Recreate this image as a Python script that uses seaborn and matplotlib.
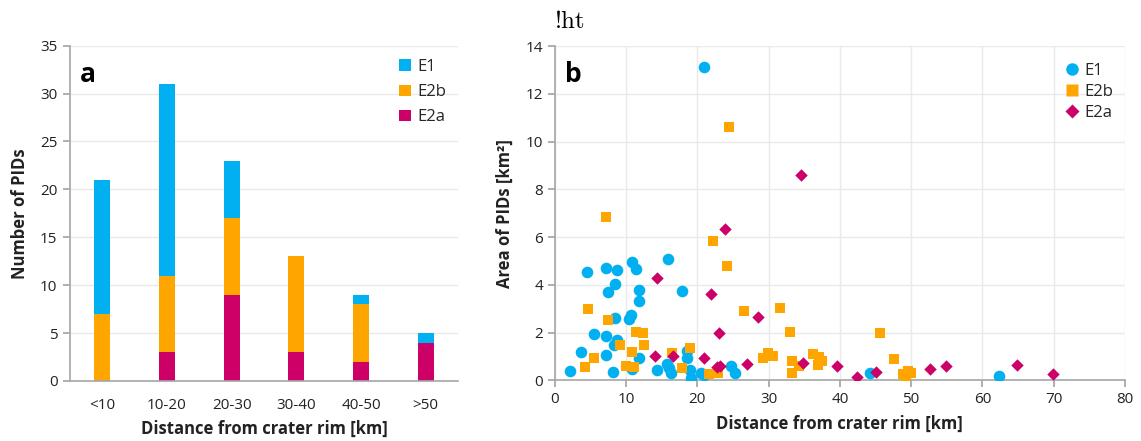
import matplotlib
matplotlib.use("Agg")
import matplotlib.pyplot as plt
from matplotlib.lines import Line2D
from matplotlib.patches import Patch
import seaborn as sns
import pandas as pd
import numpy as np

# ---------------- data ----------------
categories = ["<10", "10-20", "20-30", "30-40", "40-50", ">50"]
bar_e1 = [14, 20, 6, 0, 1, 1]
bar_e2b = [7, 8, 8, 10, 6, 0]
bar_e2a = [0, 3, 9, 3, 2, 4]

e1_x = [2.1, 3.7, 4.6, 5.5, 7.2, 7.5, 7.2, 7.2, 8.2, 8.4, 8.5, 8.8, 8.8, 8.25,
        10.4, 10.7, 10.9, 11.35, 11.8, 11.8, 11.8, 10.8, 14.4, 15.9, 15.8, 16.0,
        16.3, 17.9, 18.5, 18.6, 18.95, 19.1, 20.5, 20.9, 21.0, 24.7, 25.3, 44.2, 62.3]
e1_y = [0.41, 1.2, 4.52, 1.96, 4.7, 3.72, 1.86, 1.05, 0.37, 2.63, 4.02, 4.63, 1.7, 1.5,
        2.55, 2.74, 4.95, 4.65, 3.8, 3.33, 0.95, 0.48, 0.42, 5.08, 0.7, 0.5,
        0.32, 3.73, 1.25, 0.95, 0.45, 0.1, 0.32, 0.23, 13.1, 0.62, 0.32, 0.3, 0.2]

e2b_x = [4.3, 5.5, 4.7, 7.2, 7.45, 9.1, 9.95,
         11.1, 10.9, 11.4, 12.4, 12.5, 16.4, 17.9, 19.0,
         21.6, 22.9, 22.2, 24.1, 24.4, 26.5, 29.2, 29.9,
         30.6, 31.6, 33.0, 33.3, 33.3, 34.3, 36.2, 37.1, 37.5, 36.9,
         45.6, 47.6, 48.9, 49.3, 49.6, 50.0]
e2b_y = [0.55, 0.95, 3.0, 6.84, 2.53, 1.47, 0.6,
         0.57, 1.2, 2.03, 2.0, 1.47, 1.13, 0.5, 1.36,
         0.25, 0.32, 5.83, 4.78, 10.6, 2.91, 0.93, 1.13,
         1.04, 3.02, 2.03, 0.81, 0.3, 0.6, 1.09, 0.97, 0.83, 0.65,
         1.97, 0.9, 0.25, 0.18, 0.4, 0.32]

e2a_x = [14.3, 14.0, 16.6, 21.0, 21.9, 23.0, 23.9, 22.7, 23.2, 27.0, 28.5,
         34.5, 34.8, 39.6, 42.4, 45.1, 52.7, 54.9, 64.8, 69.9]
e2a_y = [4.29, 1.04, 1.02, 0.93, 3.61, 1.97, 6.33, 0.55, 0.62, 0.7, 2.64,
         8.61, 0.72, 0.59, 0.14, 0.35, 0.48, 0.6, 0.65, 0.27]

series = ["E1", "E2b", "E2a"]
colors = {"E1": "#00B0F0", "E2b": "#FFA500", "E2a": "#CC0066"}
markers = {"E1": "o", "E2b": "s", "E2a": "D"}

# ---------------- style ----------------
sns.set_theme(style="white")
plt.rcParams["font.family"] = ["Open Sans", "DejaVu Sans"]
GRID = "#EAEAEA"
SPINE = "#A6A6A6"
TXT = "#222222"

fig = plt.figure(figsize=(11.41, 4.41), dpi=100)
ax1 = fig.add_axes([70 / 1141, 1 - 381 / 441, 388 / 1141, 335.3 / 441])
ax2 = fig.add_axes([554.7 / 1141, 1 - 380.4 / 441, 570.3 / 1141, 334.4 / 441])

# ---------------- panel a: stacked bars ----------------
df_bar = pd.DataFrame({"cat": categories,
                       "E1": bar_e1, "E2b": bar_e2b, "E2a": bar_e2a})
df_bar["top_e1"] = df_bar["E1"] + df_bar["E2b"] + df_bar["E2a"]
df_bar["top_e2b"] = df_bar["E2b"] + df_bar["E2a"]
df_bar["top_e2a"] = df_bar["E2a"]

for col, s in [("top_e1", "E1"), ("top_e2b", "E2b"), ("top_e2a", "E2a")]:
    sns.barplot(data=df_bar, x="cat", y=col, order=categories, color=colors[s],
                saturation=1, width=0.25, linewidth=0, ax=ax1)

ax1.set_xlim(-0.5, 5.5)
ax1.set_ylim(0, 35)
ax1.set_yticks(range(0, 36, 5))
ax1.yaxis.grid(True, color=GRID, linewidth=1)
ax1.xaxis.grid(False)
ax1.set_axisbelow(True)
for side in ["top", "right"]:
    ax1.spines[side].set_visible(False)
for side in ["left", "bottom"]:
    ax1.spines[side].set_color(SPINE)
    ax1.spines[side].set_linewidth(1.2)
ax1.tick_params(axis="y", which="both", left=True, length=5, color=SPINE,
                labelsize=11, labelcolor=TXT, pad=4)
ax1.tick_params(axis="x", bottom=False, labelsize=11, labelcolor=TXT, pad=6)
ax1.set_xlabel("Distance from crater rim [km]", fontsize=12, fontweight="bold",
               color=TXT, labelpad=5)
ax1.set_ylabel("Number of PIDs", fontsize=12, fontweight="bold", color=TXT,
               labelpad=8)
ax1.text(0.025, 0.955, "a", transform=ax1.transAxes, fontsize=19,
         fontweight="bold", va="top", ha="left", color="black")
handles_a = [Patch(facecolor=colors[s], edgecolor="none", label=s) for s in series]
ax1.legend(handles=handles_a, loc="upper right", bbox_to_anchor=(1.0, 0.995),
           frameon=False, fontsize=12, handlelength=0.7, handleheight=0.7,
           handletextpad=0.4, labelspacing=0.55, borderaxespad=0.3)

# ---------------- panel b: scatter ----------------
df_sc = pd.DataFrame({
    "x": e1_x + e2b_x + e2a_x,
    "y": e1_y + e2b_y + e2a_y,
    "type": ["E1"] * len(e1_x) + ["E2b"] * len(e2b_x) + ["E2a"] * len(e2a_x),
})
sizes = {"E1": 70, "E2b": 55, "E2a": 40}
for s in series:
    sns.scatterplot(data=df_sc[df_sc["type"] == s], x="x", y="y",
                    color=colors[s], marker=markers[s], s=sizes[s],
                    linewidth=0, ax=ax2, legend=False, zorder=3)

ax2.set_xlim(0, 80)
ax2.set_ylim(0, 14)
ax2.set_xticks(range(0, 81, 10))
ax2.set_yticks(range(0, 15, 2))
ax2.grid(True, color=GRID, linewidth=1)
ax2.set_axisbelow(True)
for side in ["top", "right"]:
    ax2.spines[side].set_visible(False)
for side in ["left", "bottom"]:
    ax2.spines[side].set_color(SPINE)
    ax2.spines[side].set_linewidth(1.2)
ax2.tick_params(axis="both", which="both", left=True, bottom=True, length=5,
                color=SPINE, labelsize=11, labelcolor=TXT)
ax2.tick_params(axis="x", pad=3)
ax2.set_xlabel("Distance from crater rim [km]", fontsize=12, fontweight="bold",
               color=TXT, labelpad=6)
ax2.set_ylabel("Area of PIDs [km²]", fontsize=12, fontweight="bold", color=TXT,
               labelpad=8)
ax2.text(0.018, 0.955, "b", transform=ax2.transAxes, fontsize=19,
         fontweight="bold", va="top", ha="left", color="black")
handles_b = [Line2D([], [], linestyle="none", marker=markers[s],
                    markerfacecolor=colors[s], markeredgecolor="none",
                    markersize={"E1": 9, "E2b": 8, "E2a": 7}[s], label=s)
             for s in series]
ax2.legend(handles=handles_b, loc="upper right", bbox_to_anchor=(1.0, 0.985),
           frameon=False, fontsize=12, handlelength=0.7, handletextpad=0.4,
           labelspacing=0.3, borderaxespad=0.3)

fig.text(0.5, 1 - 28 / 441, "!ht", ha="center", va="baseline", fontsize=18,
         family="cmr10", color="black")

fig.savefig("out.png", dpi=100)
